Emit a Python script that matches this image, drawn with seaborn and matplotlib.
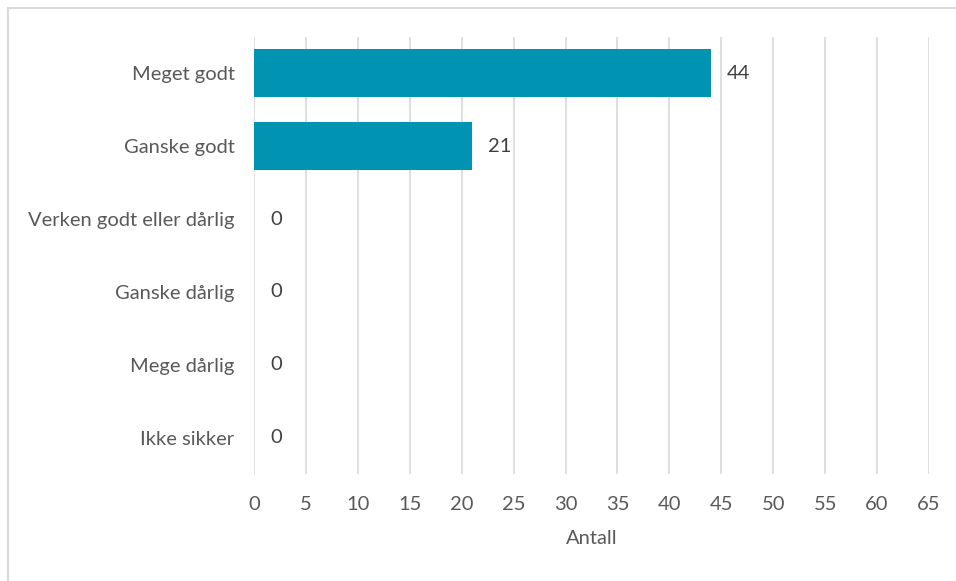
import matplotlib
matplotlib.use("Agg")
import matplotlib.pyplot as plt
import seaborn as sns
import pandas as pd
from matplotlib.lines import Line2D

categories = ["Meget godt", "Ganske godt", "Verken godt eller dårlig",
              "Ganske dårlig", "Mege dårlig", "Ikke sikker"]
values = [44, 21, 0, 0, 0, 0]
xticks = list(range(0, 70, 5))
xlabel = "Antall"

sns.set_theme(style="white")
plt.rcParams['font.family'] = ['Lato', 'DejaVu Sans']
text_color = "#595959"
fs = 14.5

df = pd.DataFrame({"cat": categories, "val": values})

fig = plt.figure(figsize=(9.56, 5.81), dpi=100)
ax = fig.add_axes([254/956, 1-474/581, (929-254)/956, (474-37)/581])

sns.barplot(data=df, y="cat", x="val", orient="h", color="#0093B2",
            saturation=1, width=0.66, linewidth=0, ax=ax)

ax.set_xlim(0, 65)
ax.set_ylim(len(categories) - 0.5, -0.5)
ax.set_xticks(xticks)
ax.set_xticklabels([str(t) for t in xticks], fontsize=fs, color=text_color)
ax.tick_params(axis="y", labelsize=fs, labelcolor=text_color, length=0, pad=14)
ax.tick_params(axis="x", length=0, pad=16)
ax.set_ylabel("")
ax.set_xlabel(xlabel, fontsize=fs, color=text_color, labelpad=12)
ax.grid(axis="x", color="#d9d9d9", linewidth=1.2)
ax.set_axisbelow(True)
for s in ax.spines.values():
    s.set_visible(False)

for i, v in enumerate(values):
    ax.annotate(str(v), xy=(v, i), xytext=(16, 0), textcoords="offset pixels",
                ha="left", va="center", fontsize=fs, color="#404040")

# figure border (left and top visible)
fig.add_artist(Line2D([8/956, 8/956], [0, 1-8/581], transform=fig.transFigure,
                      color="#d9d9d9", linewidth=1.5))
fig.add_artist(Line2D([8/956, 1], [1-8/581, 1-8/581], transform=fig.transFigure,
                      color="#d9d9d9", linewidth=1.5))

fig.savefig("out.png", dpi=100)
